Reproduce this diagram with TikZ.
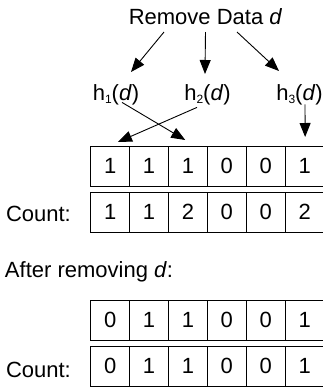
\documentclass[tikz,border=0pt]{standalone}
\usepackage{fontspec}
\setmainfont{Liberation Sans}
\usetikzlibrary{arrows.meta}
\newcommand{\hsub}[1]{h\raisebox{-3.5pt}{\fontsize{12}{14}\selectfont #1}(\textit{d})}
\begin{document}
\begin{tikzpicture}[x=1pt,y=-1pt,
  every node/.style={font=\fontsize{22}{26}\selectfont, inner sep=0pt, outer sep=0pt},
  cell/.style={draw, line width=1pt, minimum width=38.9pt, minimum height=40pt},
  arr/.style={-{Triangle[length=14pt,width=11pt]}, line width=0.9pt},
  lbl/.style={anchor=base, text height=16pt, text depth=5pt}]
\useasboundingbox (0,0) rectangle (323,392);

% title and hash labels
\node[anchor=base, text height=16pt, text depth=0pt] (rm) at (205.5,24) {Remove Data \textit{d}};
\node[lbl] (h1) at (116,100) {\hsub{1}};
\node[lbl] (h2) at (207.5,100) {\hsub{2}};
\node[lbl] (h3) at (299.5,100) {\hsub{3}};

% bit array and counters before removal
\foreach \v [count=\i] in {1,1,1,0,0,1}
  \node[cell] (a\i) at ({90.7+38.9*(\i-0.5)},166) {\v};
\foreach \v [count=\i] in {1,1,2,0,0,2}
  \node[cell] (b\i) at ({90.7+38.9*(\i-0.5)},212) {\v};
\node[anchor=base west] (cnt1) at (6,221.5) {Count:};

% after removal
\node[anchor=base west] (after) at (5,277) {After removing \textit{d}:};
\foreach \v [count=\i] in {0,1,1,0,0,1}
  \node[cell] (c\i) at ({90.7+38.9*(\i-0.5)},320) {\v};
\foreach \v [count=\i] in {0,1,1,0,0,1}
  \node[cell] (e\i) at ({90.7+38.9*(\i-0.5)},366) {\v};
\node[anchor=base west] (cnt2) at (6,377.5) {Count:};

% arrows from the item to its hashes
\draw[arr] ([xshift=-41.5pt,yshift=-8pt]rm.south) -- ([xshift=15pt,yshift=12pt]h1.north);
\draw[arr] ([xshift=0pt,yshift=-8pt]rm.south) -- ([xshift=-2.5pt,yshift=10pt]h2.north);
\draw[arr] ([xshift=31.5pt,yshift=-8pt]rm.south) -- ([xshift=-20.5pt,yshift=13pt]h3.north);

% arrows from the hashes to the array positions
\draw[arr] ([xshift=6pt,yshift=2.6pt]h1.south) -- ([xshift=-2.7pt,yshift=6pt]a3.north);
\draw[arr] ([xshift=-10.5pt,yshift=-2.4pt]h2.south) -- ([xshift=7.8pt,yshift=4pt]a1.north);
\draw[arr] ([xshift=5.5pt,yshift=0.6pt]h3.south) -- ([xshift=0.5pt,yshift=9pt]a6.north);
\end{tikzpicture}
\end{document}
